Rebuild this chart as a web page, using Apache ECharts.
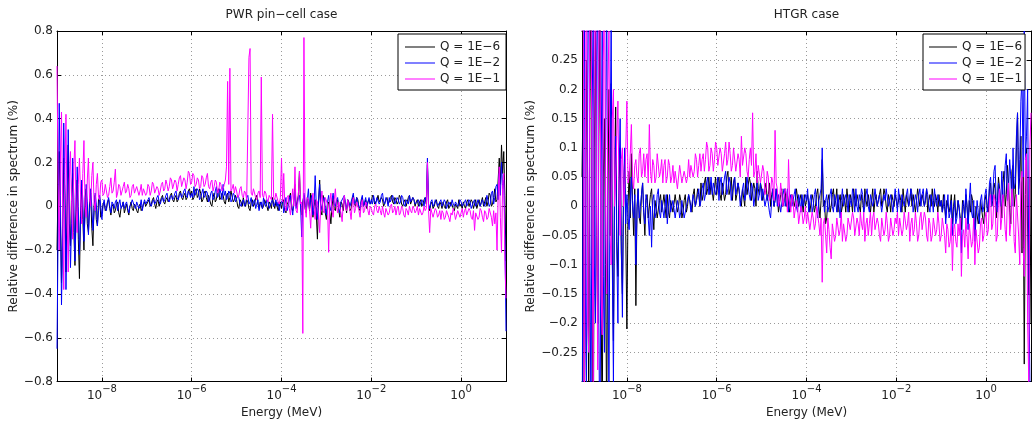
<!DOCTYPE html>
<html><head><meta charset="utf-8">
<script src="https://cdn.jsdelivr.net/npm/echarts@6/dist/echarts.min.js"></script>
<style>html,body{margin:0;padding:0;background:#fff}#c{width:1034px;height:424px}</style>
</head><body><div id="c"></div>
<script>
// log10(Energy / MeV)
const logE = [
-9,-8.975,-8.95,-8.925,-8.9,-8.875,-8.85,-8.825,-8.8,-8.775,-8.75,-8.725,-8.7,-8.675,-8.65,-8.625,-8.6,-8.575,-8.55,-8.525,-8.5,-8.475,-8.45,-8.425,-8.4,-8.375,-8.35,-8.325,-8.3,-8.275,-8.25,-8.225,-8.2,-8.175,-8.15,-8.125,-8.1,-8.075,-8.05,-8.025,
-8,-7.975,-7.95,-7.925,-7.9,-7.875,-7.85,-7.825,-7.8,-7.775,-7.75,-7.725,-7.7,-7.675,-7.65,-7.625,-7.6,-7.575,-7.55,-7.525,-7.5,-7.475,-7.45,-7.425,-7.4,-7.375,-7.35,-7.325,-7.3,-7.275,-7.25,-7.225,-7.2,-7.175,-7.15,-7.125,-7.1,-7.075,-7.05,-7.025,
-7,-6.975,-6.95,-6.925,-6.9,-6.875,-6.85,-6.825,-6.8,-6.775,-6.75,-6.725,-6.7,-6.675,-6.65,-6.625,-6.6,-6.575,-6.55,-6.525,-6.5,-6.475,-6.45,-6.425,-6.4,-6.375,-6.35,-6.325,-6.3,-6.275,-6.25,-6.225,-6.2,-6.175,-6.15,-6.125,-6.1,-6.075,-6.05,-6.025,
-6,-5.975,-5.95,-5.925,-5.9,-5.875,-5.85,-5.825,-5.8,-5.775,-5.75,-5.725,-5.7,-5.675,-5.65,-5.625,-5.6,-5.575,-5.55,-5.525,-5.5,-5.475,-5.45,-5.425,-5.4,-5.375,-5.35,-5.325,-5.3,-5.275,-5.25,-5.225,-5.2,-5.175,-5.15,-5.125,-5.1,-5.075,-5.05,-5.025,
-5,-4.975,-4.95,-4.925,-4.9,-4.875,-4.85,-4.825,-4.8,-4.775,-4.75,-4.725,-4.7,-4.675,-4.65,-4.625,-4.6,-4.575,-4.55,-4.525,-4.5,-4.475,-4.45,-4.425,-4.4,-4.375,-4.35,-4.325,-4.3,-4.275,-4.25,-4.225,-4.2,-4.175,-4.15,-4.125,-4.1,-4.075,-4.05,-4.025,
-4,-3.975,-3.95,-3.925,-3.9,-3.875,-3.85,-3.825,-3.8,-3.775,-3.75,-3.725,-3.7,-3.675,-3.65,-3.625,-3.6,-3.575,-3.55,-3.525,-3.5,-3.475,-3.45,-3.425,-3.4,-3.375,-3.35,-3.325,-3.3,-3.275,-3.25,-3.225,-3.2,-3.175,-3.15,-3.125,-3.1,-3.075,-3.05,-3.025,
-3,-2.975,-2.95,-2.925,-2.9,-2.875,-2.85,-2.825,-2.8,-2.775,-2.75,-2.725,-2.7,-2.675,-2.65,-2.625,-2.6,-2.575,-2.55,-2.525,-2.5,-2.475,-2.45,-2.425,-2.4,-2.375,-2.35,-2.325,-2.3,-2.275,-2.25,-2.225,-2.2,-2.175,-2.15,-2.125,-2.1,-2.075,-2.05,-2.025,
-2,-1.975,-1.95,-1.925,-1.9,-1.875,-1.85,-1.825,-1.8,-1.775,-1.75,-1.725,-1.7,-1.675,-1.65,-1.625,-1.6,-1.575,-1.55,-1.525,-1.5,-1.475,-1.45,-1.425,-1.4,-1.375,-1.35,-1.325,-1.3,-1.275,-1.25,-1.225,-1.2,-1.175,-1.15,-1.125,-1.1,-1.075,-1.05,-1.025,
-1,-0.975,-0.95,-0.925,-0.9,-0.875,-0.85,-0.825,-0.8,-0.775,-0.75,-0.725,-0.7,-0.675,-0.65,-0.625,-0.6,-0.575,-0.55,-0.525,-0.5,-0.475,-0.45,-0.425,-0.4,-0.375,-0.35,-0.325,-0.3,-0.275,-0.25,-0.225,-0.2,-0.175,-0.15,-0.125,-0.1,-0.075,-0.05,-0.025,
0,0.025,0.05,0.075,0.1,0.125,0.15,0.175,0.2,0.225,0.25,0.275,0.3,0.325,0.35,0.375,0.4,0.425,0.45,0.475,0.5,0.525,0.55,0.575,0.6,0.625,0.65,0.675,0.7,0.725,0.75,0.775,0.8,0.825,0.85,0.875,0.9,0.925,0.95,0.975,1
];

const seriesNames = ['Q = 1E\u22126', 'Q = 1E\u22122', 'Q = 1E\u22121'];
const xTickValues = [-8, -6, -4, -2, 0];

// PWR pin-cell case
const pwrQ6 = [
-0.20,0.10,0.25,-0.05,-0.35,-0.10,0.22,0.05,-0.30,0.02,0.28,-0.08,-0.18,0.06,0.15,-0.12,-0.27,0.03,0.12,-0.15,-0.33,-0.02,0.10,-0.06,-0.20,0.04,0.08,-0.08,-0.12,0.02,0.06,-0.10,-0.18,0.00,0.05,-0.06,-0.09,0.03,0.04,-0.05,
-0.03,0.01,0.02,-0.02,-0.01,0.02,0.03,-0.01,-0.04,0.00,0.01,-0.03,-0.02,0.01,0.02,-0.03,-0.05,-0.01,0.00,0.02,-0.03,-0.01,0.01,-0.02,-0.04,0.00,0.02,-0.01,-0.02,0.01,0.00,-0.02,-0.03,0.00,0.01,-0.02,-0.01,0.01,0.02,0.00,
0.00,0.02,0.03,0.00,0.01,0.03,0.04,0.01,-0.01,0.02,0.03,0.00,0.02,0.04,0.05,0.02,0.01,0.03,0.04,0.02,0.03,0.05,0.06,0.03,0.02,0.04,0.05,0.02,0.03,0.06,0.07,0.04,0.03,0.05,0.06,0.03,0.04,0.07,0.08,0.05,
0.07,0.03,0.04,0.07,0.08,0.04,0.05,0.08,0.06,0.02,0.03,0.06,0.07,0.04,0.02,0.05,0.05,0.01,0.00,0.04,0.06,0.02,0.03,0.07,0.08,0.03,0.04,0.06,0.05,0.02,0.01,0.05,0.06,0.02,0.04,0.07,0.07,0.02,0.03,0.05,
0.03,0.00,-0.01,0.03,0.02,0.00,0.04,0.01,0.00,0.03,0.02,-0.01,-0.02,0.02,0.03,0.00,0.01,0.04,0.05,0.01,-0.01,0.02,0.02,-0.01,0.00,0.03,0.03,0.00,-0.02,0.02,0.01,-0.01,0.04,0.01,-0.01,0.02,0.02,-0.02,0.00,0.02,
-0.01,0.02,0.03,-0.02,-0.03,0.01,0.02,0.04,0.06,-0.01,-0.02,0.03,0.10,0.00,0.02,0.05,0.16,0.01,-0.04,0.02,0.05,-0.01,-0.03,0.04,0.02,-0.02,0.06,0.01,-0.05,0.00,0.03,-0.04,-0.15,0.02,0.12,-0.02,-0.04,0.05,0.03,-0.03,
-0.06,0.01,0.02,-0.03,-0.08,0.00,0.04,-0.01,-0.02,0.02,0.03,-0.02,-0.05,0.02,0.01,-0.02,0.04,0.01,-0.03,0.03,0.02,-0.02,-0.01,0.03,0.05,0.01,0.00,0.04,0.03,-0.01,-0.02,0.02,0.04,0.00,0.01,0.03,-0.01,0.02,0.03,0.01,
0.02,0.05,0.04,0.01,0.01,0.03,0.05,0.02,0.02,0.04,0.03,0.00,0.00,0.03,0.04,0.01,0.02,0.04,0.05,0.02,0.01,0.04,0.03,0.01,0.02,0.05,0.04,0.01,0.00,0.02,0.03,0.00,0.02,0.04,0.05,0.01,0.01,0.04,0.03,0.00,
0.02,0.03,0.00,0.02,0.03,0.00,0.01,0.03,0.04,0.01,0.19,0.00,-0.02,0.01,0.02,-0.01,0.00,0.02,0.03,0.00,-0.01,0.02,0.01,-0.01,0.02,0.00,-0.01,0.02,0.03,-0.01,0.00,0.02,0.02,-0.01,-0.02,0.01,0.01,-0.01,0.03,0.00,
0.01,-0.01,0.02,0.00,-0.01,0.02,0.03,0.00,0.00,0.03,0.02,-0.01,0.01,0.03,-0.01,0.01,0.03,0.00,0.02,0.04,0.00,0.02,0.04,0.00,0.02,0.06,0.05,0.00,0.01,0.04,0.08,0.02,0.03,0.12,0.22,0.10,0.28,0.15,0.25,0.05,-0.25
];
const pwrQ2 = [
-0.65,-0.10,0.47,0.05,-0.45,-0.15,0.38,0.10,-0.38,-0.05,0.35,0.02,-0.28,-0.08,0.22,0.04,-0.25,-0.06,0.18,0.00,-0.22,-0.05,0.12,0.03,-0.16,-0.04,0.10,0.02,-0.13,-0.02,0.08,0.00,-0.11,-0.03,0.06,0.01,-0.09,-0.02,0.05,0.00,
-0.06,0.00,0.03,-0.01,-0.02,0.02,0.04,0.00,-0.03,0.02,0.01,-0.01,0.02,0.03,-0.02,0.01,0.03,-0.01,0.00,0.02,-0.01,0.01,0.02,-0.01,-0.03,0.00,0.01,0.03,0.03,0.00,-0.01,0.02,0.02,-0.01,0.00,0.03,-0.02,0.01,0.03,0.01,
0.01,0.03,0.04,0.01,0.00,0.02,0.03,0.01,0.02,0.04,0.05,0.02,0.01,0.03,0.04,0.02,0.03,0.05,0.06,0.03,0.02,0.04,0.05,0.03,0.04,0.06,0.07,0.04,0.03,0.05,0.06,0.04,0.05,0.07,0.08,0.05,0.04,0.07,0.06,0.04,
0.06,0.04,0.09,0.05,0.05,0.08,0.07,0.03,0.04,0.06,0.08,0.04,0.05,0.07,0.06,0.02,0.03,0.06,0.07,0.03,0.04,0.07,0.09,0.04,0.05,0.08,0.06,0.03,0.10,0.05,0.07,0.03,0.04,0.07,0.06,0.02,0.03,0.06,0.05,0.02,
0.02,0.05,0.04,0.01,0.00,0.02,0.03,0.00,0.01,0.04,0.05,0.01,0.02,0.04,0.00,0.02,0.03,-0.01,0.01,0.03,-0.02,0.01,0.02,-0.01,0.04,0.01,0.00,0.03,0.02,-0.01,-0.01,0.02,0.03,0.00,0.01,0.03,0.00,0.02,-0.02,0.01,
0.01,0.03,-0.03,0.01,0.04,-0.02,0.00,0.03,0.05,0.00,-0.04,0.02,0.07,-0.01,0.01,0.04,0.05,0.00,-0.14,0.01,0.06,0.02,-0.02,0.03,0.08,-0.01,0.03,0.05,-0.04,0.01,0.14,0.00,-0.06,0.03,0.10,-0.02,0.00,0.03,0.04,-0.01,
-0.04,0.02,0.05,0.00,-0.02,0.03,0.06,0.01,0.00,0.03,0.04,-0.01,-0.03,0.02,0.02,0.04,0.05,0.01,-0.01,0.03,0.03,0.00,0.00,0.04,0.06,0.01,0.02,0.04,0.04,0.00,-0.01,0.03,0.05,0.00,0.02,0.04,0.00,0.02,0.04,0.01,
0.03,0.01,0.05,0.02,0.01,0.04,0.04,0.01,0.02,0.05,0.06,0.02,0.01,0.04,0.03,0.00,0.04,0.02,0.02,0.05,0.05,0.01,0.01,0.04,0.03,0.01,0.02,0.05,0.04,0.01,0.00,0.03,0.03,0.01,0.05,0.02,0.02,0.04,0.03,0.01,
0.01,0.02,0.03,0.00,0.00,0.03,0.02,0.00,0.04,0.02,0.22,0.01,-0.01,0.02,0.03,0.00,0.01,0.03,0.02,0.00,0.00,0.02,0.03,0.00,0.01,0.03,0.02,-0.01,-0.01,0.02,0.02,0.00,0.03,0.01,0.00,0.02,0.02,0.00,0.01,0.03,
0.02,0.00,0.00,0.02,0.03,0.00,0.01,0.03,0.02,-0.01,-0.01,0.02,0.03,0.00,0.01,0.03,0.02,0.00,0.00,0.03,0.03,0.00,0.02,0.05,0.05,0.00,0.01,0.06,0.07,0.01,0.04,0.09,0.10,0.03,0.15,0.05,0.20,0.08,0.12,-0.10,-0.57
];
const pwrQ1 = [
0.64,0.10,-0.20,0.20,0.43,0.00,-0.38,0.15,0.42,-0.05,-0.30,0.12,0.25,0.02,-0.15,0.18,0.30,-0.02,-0.12,0.10,0.22,0.05,-0.08,0.15,0.30,0.00,-0.05,0.12,0.22,0.03,0.00,0.14,0.20,0.02,-0.02,0.10,0.15,0.04,0.03,0.11,
0.12,0.05,0.06,0.10,0.10,0.04,0.05,0.09,0.13,0.06,0.07,0.11,0.17,0.04,0.06,0.10,0.09,0.05,0.05,0.09,0.11,0.06,0.07,0.10,0.08,0.04,0.05,0.09,0.10,0.06,0.06,0.09,0.09,0.05,0.07,0.10,0.05,0.08,0.08,0.05,
0.06,0.10,0.09,0.05,0.07,0.11,0.10,0.06,0.06,0.09,0.08,0.05,0.07,0.10,0.11,0.07,0.08,0.12,0.10,0.07,0.09,0.13,0.12,0.08,0.08,0.12,0.11,0.07,0.10,0.13,0.14,0.09,0.09,0.13,0.12,0.08,0.11,0.16,0.15,0.10,
0.11,0.15,0.14,0.09,0.10,0.13,0.12,0.08,0.09,0.14,0.13,0.09,0.10,0.13,0.15,0.09,0.08,0.11,0.12,0.07,0.09,0.12,0.11,0.06,0.07,0.11,0.10,0.07,0.08,0.10,0.12,0.18,0.57,0.10,0.63,0.07,0.08,0.10,0.06,0.09,
0.07,0.04,0.05,0.08,0.09,0.05,0.04,0.07,0.06,0.03,0.03,0.68,0.72,0.06,0.05,0.08,0.08,0.04,0.03,0.06,0.07,0.04,0.59,0.05,0.04,0.07,0.06,0.03,0.02,0.05,0.05,0.03,0.42,0.04,0.03,0.06,0.06,0.02,0.01,0.04,
0.22,0.02,0.15,0.00,-0.02,0.04,0.05,-0.01,-0.04,0.03,0.08,0.00,0.18,-0.02,-0.03,0.05,0.16,0.01,0.02,-0.58,0.77,0.00,-0.05,0.04,0.03,-0.02,-0.10,0.02,0.06,-0.01,-0.06,0.03,0.02,-0.04,-0.12,0.01,0.07,-0.02,-0.03,0.04,
0.04,0.01,-0.21,0.02,0.06,-0.02,-0.05,0.03,0.08,0.00,-0.03,0.02,0.02,-0.03,-0.07,0.01,0.05,-0.01,-0.02,0.03,0.03,-0.02,-0.06,0.01,0.04,-0.03,-0.01,0.02,0.02,-0.02,-0.05,0.01,0.03,-0.03,-0.02,0.02,0.01,-0.02,-0.04,0.00,
-0.01,-0.03,-0.04,0.00,0.01,-0.02,-0.03,0.00,-0.02,-0.04,0.00,-0.03,-0.05,-0.01,-0.01,-0.04,-0.03,0.00,0.01,-0.03,-0.02,0.00,-0.04,-0.01,0.00,-0.04,-0.03,0.00,-0.01,-0.04,-0.05,-0.01,-0.02,-0.04,0.00,-0.02,-0.03,0.00,-0.01,-0.03,
-0.02,0.00,-0.04,-0.01,-0.01,-0.04,-0.03,0.00,-0.02,-0.01,0.20,-0.02,-0.12,-0.01,-0.03,-0.05,-0.05,-0.01,-0.02,-0.05,-0.04,-0.02,-0.06,-0.02,-0.03,-0.06,-0.05,-0.02,-0.02,-0.05,-0.07,-0.03,-0.04,-0.01,-0.03,-0.06,-0.06,-0.02,-0.02,-0.05,
-0.03,-0.01,-0.05,-0.02,-0.01,-0.04,-0.04,-0.01,-0.02,-0.05,-0.06,-0.02,-0.11,-0.03,-0.03,-0.06,-0.05,-0.01,-0.02,-0.05,-0.07,-0.02,-0.03,-0.06,-0.05,-0.01,-0.01,-0.05,-0.09,-0.02,-0.08,-0.03,-0.20,0.05,0.18,-0.05,-0.21,0.10,0.15,-0.25,-0.42
];

// HTGR case
const htgrQ6 = [
0.05,0.20,-0.45,-0.10,0.25,0.05,-0.35,0.15,0.40,-0.10,-0.50,0.10,0.30,-0.05,-0.20,0.12,0.35,-0.15,-0.40,0.05,0.15,-0.10,-0.38,0.00,0.20,-0.05,0.21,-0.08,-0.23,0.05,0.17,-0.06,-0.12,0.04,0.10,-0.08,-0.15,0.03,0.08,-0.05,
-0.21,0.00,0.06,-0.02,0.09,0.01,-0.05,0.03,-0.17,0.00,0.03,-0.02,-0.03,0.02,0.04,-0.01,-0.05,0.01,0.02,-0.02,-0.02,0.02,0.03,-0.01,-0.04,0.01,0.01,-0.02,-0.02,0.01,0.02,-0.01,-0.01,0.02,0.00,-0.02,0.02,-0.01,-0.02,0.01,
0.01,-0.01,-0.01,0.02,0.02,-0.01,0.00,0.02,0.01,-0.02,-0.01,0.01,0.02,-0.01,0.00,0.02,0.02,0.00,-0.01,0.02,0.03,0.00,0.01,0.03,0.02,0.00,0.04,0.01,0.02,0.04,0.05,0.02,0.03,0.05,0.02,0.04,0.04,0.01,0.03,0.05,
0.02,0.04,0.05,0.02,0.01,0.04,0.04,0.01,0.02,0.05,0.06,0.02,0.03,0.05,0.01,0.04,0.05,0.01,0.02,0.04,0.04,0.01,0.00,0.03,0.03,0.00,0.05,0.02,0.02,0.05,0.04,0.01,0.01,0.04,0.03,0.00,0.06,0.03,0.02,0.04,
0.03,0.01,0.01,0.03,0.04,0.01,0.02,0.04,0.00,0.02,0.03,0.00,0.01,0.03,0.02,-0.01,-0.01,0.02,0.03,0.00,0.01,0.03,0.00,0.02,0.02,-0.01,-0.01,0.02,0.02,0.00,0.01,0.03,0.03,0.00,0.00,0.02,0.01,-0.01,0.02,0.00,
0.00,0.02,0.02,-0.01,-0.01,0.02,0.01,-0.01,0.00,0.02,0.03,0.00,-0.02,0.01,0.08,0.00,0.01,-0.03,-0.02,0.01,0.02,-0.01,0.00,0.02,0.03,0.00,0.01,0.03,-0.01,0.01,0.02,-0.01,0.00,0.02,0.01,-0.01,0.03,0.01,-0.01,0.02,
0.01,-0.01,0.03,0.01,0.00,0.02,0.02,0.00,-0.01,0.02,0.01,-0.01,0.03,0.01,0.00,0.02,0.02,-0.01,0.01,0.03,-0.01,0.01,0.02,0.00,0.00,0.02,0.03,0.00,0.01,0.03,0.02,0.00,-0.01,0.02,0.01,-0.01,0.02,0.01,0.00,0.02,
0.02,0.00,0.00,0.02,0.01,-0.01,0.03,0.01,-0.01,0.02,0.02,0.00,0.01,0.03,0.00,0.02,0.02,-0.01,0.01,0.03,0.03,0.00,0.00,0.02,0.02,0.00,0.01,0.03,-0.01,0.01,0.02,0.00,0.03,0.01,0.00,0.02,0.01,-0.01,0.02,0.00,
0.01,-0.01,0.02,0.00,-0.02,0.01,0.01,-0.01,0.00,0.02,-0.03,0.00,0.02,-0.02,-0.01,0.01,0.01,-0.02,-0.04,0.01,0.00,-0.02,0.02,0.00,-0.03,0.01,-0.01,0.02,0.01,-0.02,-0.05,0.00,0.00,-0.03,-0.02,0.01,0.01,-0.02,-0.03,0.01,
0.02,0.00,-0.01,0.03,0.04,0.00,0.01,0.04,0.03,-0.02,0.00,0.05,0.05,0.01,-0.02,0.04,0.06,0.00,0.02,0.07,0.04,-0.01,-0.03,0.06,0.07,0.00,0.02,0.10,0.16,0.03,0.05,0.12,-0.08,0.05,-0.27,0.02,0.10,-0.05,-0.15,0.05,-0.20
];
const htgrQ2 = [
-0.50,0.10,0.45,-0.15,-0.30,0.20,0.50,-0.05,-0.40,0.15,0.35,-0.10,-0.20,0.25,0.40,-0.20,-0.45,0.05,0.30,-0.12,-0.25,0.10,0.38,-0.05,-0.35,0.08,0.32,-0.10,-0.30,0.02,0.12,-0.08,-0.20,0.05,0.15,-0.06,-0.19,0.02,0.10,-0.03,
0.02,-0.02,-0.04,0.01,0.05,0.00,-0.02,0.02,-0.10,-0.01,0.03,-0.02,0.00,0.02,0.04,-0.01,-0.03,0.02,0.01,-0.02,-0.05,0.00,-0.07,0.01,0.02,-0.02,-0.01,0.02,0.03,-0.01,-0.02,0.01,0.01,-0.02,0.00,0.02,-0.03,0.00,0.02,-0.01,
-0.01,0.01,0.01,-0.02,-0.02,0.01,0.00,-0.02,-0.01,0.01,0.01,-0.02,-0.02,0.00,0.00,0.02,0.01,-0.01,-0.01,0.02,0.02,0.00,0.00,0.02,0.03,0.00,0.01,0.03,0.04,0.01,0.02,0.04,0.05,0.02,0.03,0.05,0.02,0.04,0.04,0.02,
0.03,0.05,0.01,0.04,0.05,0.02,0.02,0.05,0.06,0.02,0.03,0.05,0.04,0.01,0.01,0.04,0.05,0.02,0.02,0.04,0.03,0.00,0.00,0.03,0.04,0.01,0.02,0.05,0.05,0.02,0.01,0.04,0.03,0.00,0.00,0.03,0.04,0.01,0.02,0.04,
0.01,0.03,0.03,0.00,0.00,0.02,0.02,-0.01,-0.02,0.01,0.03,0.00,0.01,0.03,0.00,0.02,0.02,-0.01,-0.01,0.02,0.03,0.00,0.01,0.03,-0.01,0.01,0.02,0.00,0.00,0.02,0.03,0.00,-0.01,0.02,0.01,-0.01,0.02,0.00,0.00,0.02,
0.01,0.03,-0.01,0.01,0.02,-0.01,0.00,0.02,0.03,0.00,-0.02,0.01,0.01,0.03,0.10,0.02,-0.01,0.01,0.02,-0.01,0.00,0.02,0.03,0.00,-0.01,0.02,0.01,-0.01,0.02,0.00,-0.02,0.01,0.03,0.00,0.00,0.02,0.01,-0.01,0.02,0.01,
0.00,0.03,0.02,-0.01,0.03,0.00,-0.01,0.02,0.01,0.03,0.02,-0.01,0.00,0.02,0.03,0.00,-0.01,0.02,0.02,0.00,0.01,0.03,0.03,0.00,0.00,0.02,0.02,-0.01,-0.01,0.02,0.01,0.03,0.03,0.00,0.00,0.02,0.02,-0.01,0.01,0.03,
0.01,-0.01,0.03,0.01,-0.01,0.02,0.02,0.00,0.00,0.02,0.03,0.00,0.01,0.03,0.02,-0.01,-0.01,0.02,0.01,-0.01,0.02,0.03,0.00,0.02,0.03,0.00,0.01,0.03,0.02,0.00,-0.01,0.02,0.01,-0.01,0.03,0.01,0.00,0.02,0.02,0.00,
0.01,-0.01,0.00,0.02,-0.03,0.00,0.02,-0.02,-0.01,0.01,-0.05,-0.01,0.01,-0.03,-0.02,0.01,0.00,-0.03,-0.08,0.00,0.01,-0.02,0.03,0.00,-0.04,0.01,0.04,-0.01,-0.02,0.01,-0.06,-0.02,0.01,-0.01,-0.03,0.01,0.02,-0.01,0.00,0.02,
0.03,-0.01,0.00,0.04,0.05,0.00,0.02,0.06,0.07,0.01,-0.01,0.04,0.04,0.00,0.06,0.01,0.02,0.07,0.09,0.01,0.03,0.08,0.05,0.00,0.10,0.03,0.04,0.12,0.16,0.02,0.08,0.18,0.22,0.05,0.30,0.08,0.12,0.20,-0.10,-0.30,-0.32
];
const htgrQ1 = [
0.30,0.50,-0.40,0.10,0.50,-0.20,-0.25,0.40,0.45,-0.05,-0.30,0.35,0.40,0.00,-0.28,0.30,0.35,-0.15,-0.22,0.25,0.40,0.00,-0.15,0.20,0.30,-0.05,-0.10,0.15,0.20,0.00,0.05,0.12,0.18,0.02,-0.05,0.08,0.10,0.00,0.03,0.10,
0.18,0.04,0.05,0.09,0.14,0.05,0.03,0.07,0.08,0.05,0.04,0.09,0.10,0.05,0.06,0.09,0.05,0.08,0.09,0.04,0.14,0.06,0.04,0.08,0.07,0.04,0.05,0.09,0.09,0.05,0.06,0.08,0.04,0.07,0.08,0.04,0.05,0.08,0.07,0.04,
0.05,0.07,0.04,0.06,0.06,0.03,0.05,0.07,0.07,0.04,0.04,0.06,0.06,0.04,0.05,0.08,0.05,0.07,0.07,0.05,0.06,0.09,0.08,0.05,0.07,0.09,0.06,0.08,0.09,0.06,0.08,0.11,0.10,0.06,0.07,0.10,0.09,0.06,0.08,0.11,
0.10,0.07,0.07,0.10,0.09,0.06,0.06,0.09,0.11,0.07,0.08,0.11,0.09,0.06,0.07,0.10,0.10,0.06,0.06,0.09,0.08,0.05,0.12,0.07,0.07,0.10,0.09,0.06,0.05,0.08,0.10,0.07,0.16,0.05,0.06,0.09,0.04,0.07,0.07,0.04,
0.04,0.07,0.06,0.02,0.03,0.06,0.05,0.01,0.02,0.05,0.04,0.01,0.13,0.04,0.03,0.00,0.01,0.04,0.04,0.00,0.00,0.03,0.02,-0.01,0.08,0.01,-0.01,0.02,0.01,-0.02,-0.02,0.01,0.00,-0.03,-0.03,0.00,-0.01,-0.03,-0.02,0.00,
-0.03,-0.01,-0.01,-0.04,-0.04,-0.01,-0.02,-0.04,-0.03,0.00,0.00,-0.03,-0.05,-0.02,-0.13,-0.03,-0.02,-0.05,-0.08,-0.02,-0.04,-0.07,-0.09,-0.03,-0.03,-0.06,-0.05,-0.02,-0.02,-0.05,-0.04,-0.01,-0.06,-0.03,-0.03,-0.06,-0.05,-0.02,-0.02,-0.04,
-0.04,-0.01,-0.02,-0.05,-0.05,-0.02,-0.03,-0.05,-0.01,-0.03,-0.04,-0.01,-0.06,-0.03,-0.02,-0.05,-0.03,-0.01,-0.05,-0.02,-0.01,-0.04,-0.04,-0.02,-0.03,-0.05,-0.06,-0.02,-0.02,-0.05,-0.04,-0.01,-0.03,-0.06,-0.05,-0.02,-0.02,-0.05,-0.04,-0.02,
-0.03,-0.01,-0.05,-0.02,-0.02,-0.05,-0.04,-0.01,-0.01,-0.04,-0.03,-0.01,-0.06,-0.03,-0.02,-0.05,-0.04,-0.01,-0.03,-0.06,-0.05,-0.02,-0.01,-0.04,-0.04,-0.01,-0.02,-0.05,-0.06,-0.02,-0.03,-0.06,-0.05,-0.02,-0.02,-0.05,-0.04,-0.01,-0.03,-0.06,
-0.05,-0.02,-0.02,-0.05,-0.08,-0.03,-0.04,-0.07,-0.06,-0.02,-0.11,-0.04,-0.03,-0.06,-0.07,-0.03,-0.05,-0.02,-0.12,-0.05,-0.04,-0.07,-0.02,-0.05,-0.09,-0.03,-0.03,-0.07,-0.06,-0.02,-0.10,-0.04,-0.04,-0.08,-0.07,-0.03,-0.02,-0.06,-0.05,-0.02,
-0.01,-0.05,-0.04,0.01,0.02,-0.04,-0.03,0.02,0.01,-0.06,-0.05,0.01,0.03,-0.04,-0.02,0.02,0.00,-0.04,-0.06,0.02,0.04,-0.05,-0.03,0.03,0.01,-0.06,-0.08,0.02,0.02,-0.05,-0.10,0.04,0.06,-0.07,-0.12,0.08,0.09,-0.20,-0.30,0.10,0.16
];

const colors = ['#000000', '#0000ff', '#ff00ff'];
const FONT = 'DejaVu Sans';
const TXT = '#222';

const fmtY = v => { const r = Math.round(v * 100) / 100; return r < 0 ? '\u2212' + Math.abs(r) : String(r); };
const fmtX = v => '{b|10}{s|' + (v < 0 ? '\u2212' : '') + Math.abs(v) + '}';

const panels = [
  { title: 'PWR pin\u2212cell case', left: 57, ymin: -0.8, ymax: 0.8, yint: 0.2, data: [pwrQ6, pwrQ2, pwrQ1], edge: true, nameGap: 37, legendLeft: 398, legendPad: [5, 6, 3, 7], itemW: 30 },
  { title: 'HTGR case', left: 582, ymin: -0.3, ymax: 0.3, yint: 0.05, data: [htgrQ6, htgrQ2, htgrQ1], edge: false, nameGap: 45, legendLeft: 923, legendPad: [5, 3, 3, 6], itemW: 28 }
];

const W = 449, H = 354, TOP = 31;
const grid = [], xAxis = [], yAxis = [], series = [], legend = [], graphic = [];
const lineBlack = { color: '#000', width: 1 };
const gridLine = { show: true, lineStyle: { type: [1, 3], color: '#9a9a9a', width: 1 } };

panels.forEach((p, g) => {
  grid.push({ left: p.left, top: TOP, width: W, height: H, containLabel: false });
  xAxis.push({
    type: 'value', gridIndex: g, min: -9, max: 1, position: 'bottom',
    axisLine: { show: true, onZero: false, lineStyle: lineBlack },
    axisTick: { show: true, inside: true, length: 4, customValues: xTickValues, lineStyle: lineBlack },
    axisLabel: {
      customValues: xTickValues, formatter: fmtX, margin: 3, color: TXT,
      rich: {
        b: { fontFamily: FONT, fontSize: 12, lineHeight: 23, color: TXT },
        s: { fontFamily: FONT, fontSize: 10, lineHeight: 10, verticalAlign: 'top', color: TXT }
      }
    },
    splitLine: gridLine,
    name: 'Energy (MeV)', nameLocation: 'middle', nameGap: 22,
    nameTextStyle: { fontFamily: FONT, fontSize: 12, color: TXT }
  });
  xAxis.push({
    type: 'value', gridIndex: g, min: -9, max: 1, position: 'top',
    axisLine: { show: true, onZero: false, lineStyle: lineBlack },
    axisTick: { show: true, inside: true, length: 4, customValues: xTickValues, lineStyle: lineBlack },
    axisLabel: { show: false, customValues: xTickValues },
    splitLine: { show: false }
  });
  yAxis.push({
    type: 'value', gridIndex: g, min: p.ymin, max: p.ymax, interval: p.yint, position: 'left',
    axisLine: { show: true, onZero: false, lineStyle: lineBlack },
    axisTick: { show: true, inside: true, length: 4, lineStyle: lineBlack },
    axisLabel: { formatter: fmtY, margin: 4, fontFamily: FONT, fontSize: 12, color: TXT, showMinLabel: p.edge, showMaxLabel: p.edge },
    splitLine: gridLine,
    name: 'Relative difference in spectrum (%)', nameLocation: 'middle', nameGap: p.nameGap, nameRotate: 90,
    nameTextStyle: { fontFamily: FONT, fontSize: 12, color: TXT }
  });
  yAxis.push({
    type: 'value', gridIndex: g, min: p.ymin, max: p.ymax, interval: p.yint, position: 'right',
    axisLine: { show: true, onZero: false, lineStyle: lineBlack },
    axisTick: { show: true, inside: true, length: 4, lineStyle: lineBlack },
    axisLabel: { show: false },
    splitLine: { show: false }
  });
  p.data.forEach((vals, k) => {
    series.push({
      type: 'line', name: seriesNames[k], xAxisIndex: 2 * g, yAxisIndex: 2 * g,
      data: logE.map((x, i) => [x, vals[i]]),
      symbol: 'none', showSymbol: false, clip: true, animation: false,
      color: colors[k], itemStyle: { color: colors[k] },
      lineStyle: { width: 1, color: colors[k] }, z: 2 + k
    });
  });
  legend.push({
    data: seriesNames, orient: 'vertical', left: p.legendLeft, top: 34,
    icon: 'rect', itemWidth: p.itemW, itemHeight: 1, itemGap: 0, padding: p.legendPad,
    backgroundColor: '#fff', borderColor: '#000', borderWidth: 1, borderRadius: 0,
    selectedMode: false, z: 10,
    textStyle: { fontFamily: FONT, fontSize: 12, color: TXT, lineHeight: 16 }
  });
  graphic.push({
    type: 'text', x: p.left + W / 2, y: 15, silent: true,
    style: { text: p.title, font: '12px "DejaVu Sans"', fill: TXT, align: 'center', verticalAlign: 'middle' }
  });
});

const chart = echarts.init(document.getElementById('c'), null, { renderer: 'canvas' });
chart.setOption({
  animation: false,
  backgroundColor: '#fff',
  textStyle: { fontFamily: FONT },
  grid, xAxis, yAxis, series, legend, graphic
});
</script>
</body></html>
